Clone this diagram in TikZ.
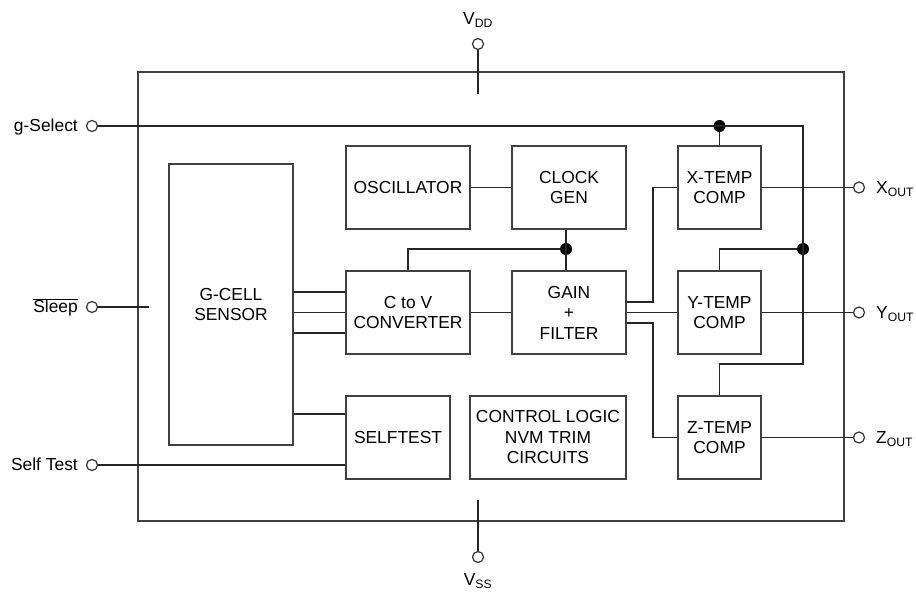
\documentclass[tikz,border=0pt]{standalone}
\usepackage{fontspec}
\setmainfont{Liberation Sans}
\usetikzlibrary{positioning,calc}
\tikzset{
  blk/.style={draw=black!75,line width=1.7pt,fill=white,align=center,inner sep=0pt,
              font=\fontsize{17.4}{20.5}\selectfont},
  frame/.style={draw=black!75,line width=1.7pt,inner sep=0pt},
  wire/.style={draw=black!85,line width=1.4pt},
  pin/.style={circle,draw=black!80,line width=1.2pt,fill=white,minimum size=11pt,inner sep=0pt},
  dot/.style={circle,fill=black,minimum size=12pt,inner sep=0pt},
  pinlabel/.style={font=\fontsize{17.4}{20}\selectfont,inner sep=0pt},
}

\begin{document}
\begin{tikzpicture}[x=1pt,y=-1pt]
    \useasboundingbox (0,0) rectangle (916,593);

    % package outline
    \node[frame,minimum width=706pt,minimum height=449pt] (chip) at (491,296.5) {};

    % blocks
    \node[blk,minimum width=124pt,minimum height=281pt] (gcell) at (231,304.5) {G-CELL\\SENSOR};
    \node[blk,minimum width=124pt,minimum height=83pt] (osc) at (408,187.5) {OSCILLATOR};
    \node[blk,minimum width=114pt,minimum height=83pt] (clk) at (569,187.5) {CLOCK\\GEN};
    \node[blk,minimum width=124pt,minimum height=83pt] (ctov) at (408,312.5) {C to V\\CONVERTER};
    \node[blk,minimum width=114pt,minimum height=83pt] (gain) at (569,312.5) {GAIN\\+\\FILTER};
    \node[blk,minimum width=104pt,minimum height=83pt] (stest) at (398,437.5) {SELFTEST};
    \node[blk,minimum width=156pt,minimum height=83pt] (ctrl) at (548,437.5) {CONTROL LOGIC\\NVM TRIM\\CIRCUITS};
    \node[blk,minimum width=83pt,minimum height=83pt] (xtc) at (719.5,187.5) {X-TEMP\\COMP};
    \node[blk,minimum width=83pt,minimum height=83pt] (ytc) at (719.5,312.5) {Y-TEMP\\COMP};
    \node[blk,minimum width=83pt,minimum height=83pt] (ztc) at (719.5,437.5) {Z-TEMP\\COMP};

    % pins
    \node[pin] (vdd) at (478,44) {};
    \node[pinlabel] (vddlbl) at (478,20) {V\textsubscript{DD}};
    \node[pin] (vss) at (478,557) {};
    \node[pinlabel] (vsslbl) at (478,581) {V\textsubscript{SS}};
    \node[pin] (gselpin) at (92,126) {};
    \node[pinlabel,anchor=base east] (gsellbl) at (78,132) {g-Select};
    \node[pin] (sleeppin) at (92,307) {};
    \node[pinlabel,anchor=base east] (sleeplbl) at (78,313) {$\overline{\mbox{Sleep}}$};
    \node[pin] (stpin) at (92,465) {};
    \node[pinlabel,anchor=base east] (stlbl) at (78,471) {Self Test};
    \node[pin] (xpin) at (859,187.5) {};
    \node[pinlabel,anchor=base west] (xlbl) at (876,193.5) {X\textsubscript{OUT}};
    \node[pin] (ypin) at (859,312.5) {};
    \node[pinlabel,anchor=base west] (ylbl) at (876,318.5) {Y\textsubscript{OUT}};
    \node[pin] (zpin) at (859,437.5) {};
    \node[pinlabel,anchor=base west] (zlbl) at (876,443.5) {Z\textsubscript{OUT}};

    % junctions
    \node[dot] (clkdot) at (566,249) {};
    \node[dot] (gseldot) at (719.5,126) {};
    \node[dot] (ydot) at (803,249) {};
    \coordinate (gselend) at (803,126);
    \coordinate (zjn) at (803,364);
    \coordinate (vddend) at (478,94);
    \coordinate (vssend) at (478,500);
    \coordinate (sleepend) at (149,307);

    % supplies and inputs
    \draw[wire] (vdd) -- (vddend);
    \draw[wire] (vssend) -- (vss);
    \draw[wire] (sleeppin) -- (sleepend);
    \draw[wire] (stpin) -- (stpin -| stest.west);
    \draw[wire] (gselpin) -- (gselend) -- (zjn) -| (ztc.north);
    \draw[wire] (gseldot) -- (xtc);
    \draw[wire] (ydot) -| (ytc);

    % clock
    \draw[wire] (osc) -- (clk);
    \draw[wire] (clkdot |- clk.south) -- (clkdot |- gain.north);
    \draw[wire] (clkdot) -| (ctov);

    % sensor paths
    \foreach \dy in {-20.5,0,20.5} {
      \coordinate (cv) at ($(ctov.west)+(0,\dy)$);
      \draw[wire] (cv) -- (cv -| gcell.east);
    }
    \coordinate (st1) at ($(stest.west)+(0,-23.5)$);
    \draw[wire] (st1) -- (st1 -| gcell.east);
    \draw[wire] (ctov) -- (gain);

    % gain outputs
    \coordinate (g1) at ($(gain.east)+(0,-10.5)$);
    \coordinate (g3) at ($(gain.east)+(0,10.5)$);
    \draw[wire] (g1) -- ++(26,0) |- (xtc.west);
    \draw[wire] (gain) -- (ytc);
    \draw[wire] (g3) -- ++(26,0) |- (ztc.west);

    % outputs
    \draw[wire] (xtc) -- (xpin);
    \draw[wire] (ytc) -- (ypin);
    \draw[wire] (ztc) -- (zpin);
\end{tikzpicture}
\end{document}
